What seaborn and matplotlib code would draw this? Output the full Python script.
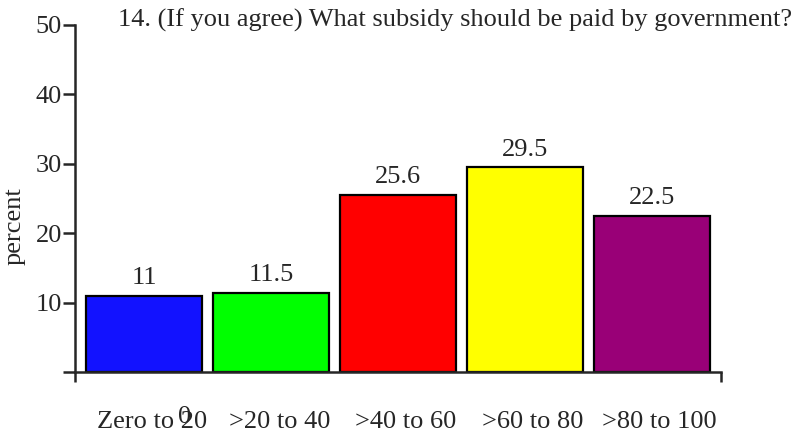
import pandas as pd
import matplotlib
matplotlib.use("Agg")
import matplotlib.pyplot as plt
import matplotlib.transforms as mtransforms
import seaborn as sns

# data
categories = ["Zero to 20", ">20 to 40", ">40 to 60", ">60 to 80", ">80 to 100"]
percent = [11, 11.5, 25.6, 29.5, 22.5]
bar_colors = ["#1212ff", "#00ff00", "#ff0000", "#ffff00", "#990077"]
y_ticks = [0, 10, 20, 30, 40, 50]
title = "14. (If you agree) What subsidy should be paid by government?"

sns.set_style("ticks")
plt.rcParams["font.family"] = ["Liberation Serif", "DejaVu Serif"]
fs = 19

df = pd.DataFrame({"cat": categories, "pct": percent})

fig = plt.figure(figsize=(7.98, 4.37), dpi=100)
ax = fig.add_axes([0.094, 0.1476, 0.8095, 0.7952])

sns.barplot(data=df, x="cat", y="pct", hue="cat", palette=bar_colors,
            legend=False, width=0.913, edgecolor="black", linewidth=1.6,
            saturation=1, ax=ax)

for i, v in enumerate(percent):
    ax.text(i, v + 1.0, f"{v:g}", ha="center", va="bottom", fontsize=fs)

ax.set_xlim(-0.547, 4.547)
ax.set_ylim(0, 50)
ax.set_yticks(y_ticks)
ax.set_yticklabels([""] + [str(t) for t in y_ticks[1:]], fontsize=fs)
ax.tick_params(axis="y", length=8.5, width=1.8, pad=1)
ax.tick_params(axis="x", length=0, pad=28, labelsize=fs)
ax.set_xticks([-0.547, 4.547], minor=True)
ax.tick_params(axis="x", which="minor", length=7.5, width=1.8)

# category labels sit a little right of the bar centres in the original
shift = mtransforms.ScaledTranslation(8 / 100, 0, fig.dpi_scale_trans)
for lab in ax.get_xticklabels():
    lab.set_transform(lab.get_transform() + shift)

for s in ["top", "right"]:
    ax.spines[s].set_visible(False)
for s in ["left", "bottom"]:
    ax.spines[s].set_linewidth(1.8)

ax.set_xlabel("")
ax.set_ylabel("percent", fontsize=fs, labelpad=2)
ax.yaxis.set_label_coords(-0.076, 0.42)

# stray zero label as drawn in the original (overlaps the first category)
fig.text(185 / 798, 1 - 417 / 437, "0", ha="center", va="center", fontsize=fs)
fig.text(118 / 798, 1 - 20 / 437, title, ha="left", va="center", fontsize=fs)

fig.savefig("out.png", dpi=100)
